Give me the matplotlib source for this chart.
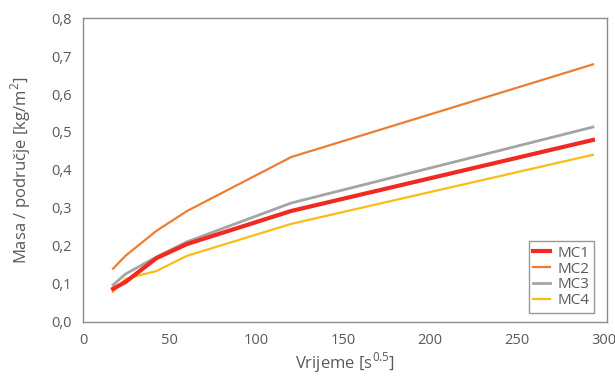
import matplotlib
matplotlib.use('Agg')
import matplotlib.pyplot as plt
from matplotlib.ticker import FuncFormatter

# time in s^0.5
x = [17.3, 24.5, 42.4, 60.0, 120.0, 293.9]
mc1 = [0.087, 0.105, 0.168, 0.205, 0.292, 0.479]
mc2 = [0.140, 0.174, 0.240, 0.292, 0.434, 0.678]
mc3 = [0.097, 0.126, 0.171, 0.211, 0.313, 0.513]
mc4 = [0.079, 0.113, 0.134, 0.174, 0.258, 0.440]

plt.rcParams['font.family'] = ['Open Sans', 'DejaVu Sans']
plt.rcParams['mathtext.fontset'] = 'custom'
plt.rcParams['mathtext.rm'] = 'Open Sans'

fig = plt.figure(figsize=(6.15, 3.76), dpi=100)
ax = fig.add_axes([0.135, 0.144, 0.852, 0.808])

ax.plot(x, mc1, color='#f02a20', lw=3.0, label='MC1', zorder=5)
ax.plot(x, mc2, color='#ed7d31', lw=1.6, label='MC2')
ax.plot(x, mc3, color='#a5a5a5', lw=2.0, label='MC3')
ax.plot(x, mc4, color='#fbbc16', lw=1.6, label='MC4')

ax.set_xlim(0, 302)
ax.set_ylim(0, 0.8)
ax.set_xticks(range(0, 301, 50))
ax.set_yticks([i / 10 for i in range(9)])
ax.yaxis.set_major_formatter(FuncFormatter(lambda v, p: f'{v:.1f}'.replace('.', ',')))
ax.tick_params(length=0, labelsize=10.5, colors='#595959', pad=8)

for s in ax.spines.values():
    s.set_color('#8c8c8c')
    s.set_linewidth(1.0)

ax.set_xlabel(r'Vrijeme [s$^{\mathrm{0.5}}$]', fontsize=12, color='#595959', labelpad=2)
ax.set_ylabel(r'Masa / područje [kg/m$^{\mathrm{2}}$]', fontsize=12, color='#595959', labelpad=13)

leg = ax.legend(loc='lower right', fontsize=11, handlelength=1.1, handletextpad=0.5,
                borderpad=0.3, labelspacing=0.05, fancybox=False,
                bbox_to_anchor=(0.99, 0.005))
leg.get_frame().set_edgecolor('#7f7f7f')
leg.get_frame().set_linewidth(1.0)
for t in leg.get_texts():
    t.set_color('#595959')

plt.savefig('out.png', dpi=100)
